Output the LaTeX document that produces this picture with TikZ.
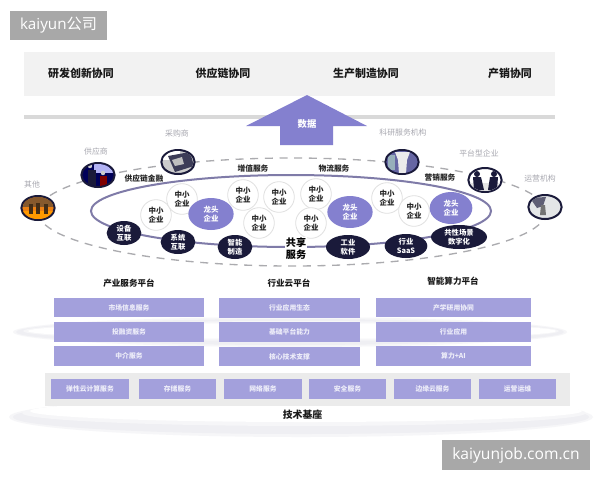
\documentclass[tikz,border=0pt]{standalone}
\usepackage{fontspec}
\usetikzlibrary{shapes.geometric}
\setmainfont{Noto Sans CJK SC}
\newfontfamily\latinfont{Open Sans}
\definecolor{boxpurple}{HTML}{A3A0DC}
\definecolor{arrowpurple}{HTML}{8480CF}
\definecolor{darkoval}{HTML}{1A1A3A}
\definecolor{ringline}{HTML}{7F7BA8}
\definecolor{dashgray}{HTML}{ABABAF}
\definecolor{labelgray}{HTML}{A8A8B0}
\definecolor{wm}{HTML}{A8A8A8}
\definecolor{ringa}{HTML}{F6F6F8}
\definecolor{ringb}{HTML}{EFEFF3}
\tikzset{
  x=0.75pt,y=-0.75pt,
  headtext/.style={font=\fontsize{8.2}{10}\selectfont\bfseries,text=black!90,inner sep=0pt},
  darktext/.style={font=\fontsize{5.8}{7}\selectfont\bfseries,text=black!85,inner sep=0pt},
  platformtext/.style={font=\fontsize{6.4}{8}\selectfont\bfseries,text=black!90,inner sep=0pt},
  graylabel/.style={font=\fontsize{5.9}{7}\selectfont,text=labelgray,inner sep=0pt},
  smecircle/.style={circle,draw=black!12,line width=0.6pt,fill=white,minimum size=23pt,inner sep=0pt,align=center,font=\fontsize{5.6}{7}\selectfont\bfseries,text=black!85},
  leadoval/.style={ellipse,fill=arrowpurple,minimum width=34pt,minimum height=24pt,inner sep=0pt,align=center,font=\fontsize{5.6}{7}\selectfont\bfseries,text=white},
  darkellipse/.style={ellipse,fill=darkoval,minimum width=26pt,minimum height=18pt,inner sep=0pt,align=center,font=\fontsize{5.5}{6.8}\selectfont\bfseries,text=white!90},
  photooval/.style={ellipse,draw=darkoval,line width=1.5pt,minimum width=25pt,minimum height=18pt,inner sep=0pt},
  purplebox/.style={text=white!82!boxpurple,font=\fontsize{5.1}{6}\selectfont\bfseries,inner sep=0pt,anchor=center},
}
\newcommand{\pbox}[6]{%
  \fill[boxpurple] (#2,#3) rectangle (#4,#5);
  \node[purplebox] (#1) at ({(#2+#4)/2},{(#3+#5)/2}) {#6};}
\begin{document}
\begin{tikzpicture}
\useasboundingbox (0,0) rectangle (600,480);
\fill[white] (0,0) rectangle (600,480);
% rings
\fill[ringa] (290,332) ellipse [x radius=277,y radius=15];
\fill[ringb] (290,332) ellipse [x radius=274,y radius=13];
\fill[ringa] (291,331) ellipse [x radius=268,y radius=10];
\fill[white] (292,331) ellipse [x radius=264,y radius=8];
\fill[ringa] (301,417) ellipse [x radius=292,y radius=20];
\fill[ringb] (301,417) ellipse [x radius=288,y radius=17];
\fill[ringa] (304,413) ellipse [x radius=282,y radius=13];
\fill[white] (306,411) ellipse [x radius=276,y radius=11];
% top band
\fill[black!5] (24,52) rectangle (555,96);
\fill[black!15] (24,115) rectangle (555,118.5);
\node[headtext] (c1) at (81,73) {研发创新协同};
\node[headtext] (c2) at (223,73) {供应链协同};
\node[headtext] (c3) at (366,73) {生产制造协同};
\node[headtext] (c4) at (510,73) {产销协同};
% arrow
\fill[arrowpurple] (307,95) -- (367,126) -- (333,126) -- (333,145) -- (280,145) -- (280,126) -- (246,126) -- cycle;
\node[font=\fontsize{7}{8}\selectfont\bfseries,text=white!90,inner sep=0pt] (data) at (307,124) {数据};
% dashed and solid ellipse
\draw[dashgray,line width=1pt,dash pattern=on 6pt off 5pt] (292,212) ellipse [x radius=254,y radius=54];
\draw[ringline,line width=1.5pt] (291,211) ellipse [x radius=200,y radius=36];
% photos
\node[photooval,fill=orange!70!brown] (p1) at (38,208) {};
\begin{scope}
\clip (38,208) ellipse [x radius=15.5,y radius=11];
\fill[brown!70!black] (22,197) rectangle (54,207);
\fill[orange!80!yellow] (22,211) rectangle (54,219);
\fill[black!65!brown] (29,204) rectangle (33,214);
\fill[black!65!brown] (36,203) rectangle (40,214);
\fill[black!65!brown] (44,204) rectangle (48,214);
\end{scope}
\node[photooval,fill=blue!35!black] (p2) at (98,175) {};
\begin{scope}
\clip (98,175) ellipse [x radius=15.5,y radius=11];
\fill[black!15!blue!30] (94,164) rectangle (114,173);
\fill[darkoval] (88,170) rectangle (96,187);
\fill[black!20] (90,166) circle[radius=2.2];
\fill[black!20] (103,173) circle[radius=2.2];
\fill[red!50!black] (100,176) rectangle (107,186);
\end{scope}
\node[photooval,fill=black!20] (p3) at (178,162) {};
\begin{scope}
\clip (178,162) ellipse [x radius=15.5,y radius=11];
\fill[white] (163,150) rectangle (180,160);
\fill[darkoval!85] (168,156) -- (190,152) -- (194,166) -- (175,172) -- cycle;
\fill[black!25] (172,160) -- (182,157) -- (184,164) -- (175,166) -- cycle;
\end{scope}
\node[photooval,fill=blue!45!black!75] (p4) at (402,162) {};
\begin{scope}
\clip (402,162) ellipse [x radius=15.5,y radius=11];
\fill[blue!40!black!60] (386,150) rectangle (418,174);
\fill[black!8] (395,152) -- (410,152) -- (407,160) -- (406,174) -- (399,174) -- (398,160) -- cycle;
\fill[cyan!40!black!50] (388,155) rectangle (395,170);
\end{scope}
\node[photooval,fill=white] (p5) at (485,180) {};
\begin{scope}
\clip (485,180) ellipse [x radius=15.5,y radius=11];
\fill[black!10] (470,183) rectangle (500,192);
\fill[darkoval] (477,174) circle[radius=3];
\fill[darkoval] (494,174) circle[radius=3];
\fill[darkoval] (473,177) -- (481,177) -- (484,190) -- (474,190) -- cycle;
\fill[darkoval] (490,177) -- (498,177) -- (497,190) -- (488,190) -- cycle;
\end{scope}
\node[photooval,fill=cyan!12!black!12] (p6) at (545,207) {};
\begin{scope}
\clip (545,207) ellipse [x radius=15.5,y radius=11];
\fill[darkoval!70] (530,198) -- (546,197) -- (543,206) -- (537,208) -- cycle;
\fill[black!55] (541,205) -- (545,205) -- (546,215) -- (540,215) -- cycle;
\end{scope}
% gray labels
\node[graylabel] (g1) at (32,184) {其他};
\node[graylabel] (g2) at (96,151) {供应商};
\node[graylabel] (g3) at (177,133) {采购商};
\node[graylabel] (g4) at (403,133) {科研服务机构};
\node[graylabel] (g5) at (479,153) {平台型企业};
\node[graylabel] (g6) at (540,179) {运营机构};
% service labels
\node[darktext] (s1) at (253,169) {增值服务};
\node[darktext] (s2) at (334,169) {物流服务};
\node[darktext] (s3) at (144,179) {供应链金融};
\node[darktext] (s4) at (440,178) {营销服务};
% SMEs
\foreach \n/\x/\y in {a/156/215,b/182/199,c/243/195,d/279/197,e/259/223,f/316/194,g/311/223,h/387/198,i/414/211}
  \node[smecircle] (sme\n) at (\x,\y) {中小\\企业};
% leaders
\node[leadoval] (l1) at (211,214) {龙头\\企业};
\node[leadoval] (l2) at (350,212) {龙头\\企业};
\node[leadoval,minimum width=32pt] (l3) at (451,208) {龙头\\企业};
% dark ovals
\node[darkellipse] (d1) at (124,233) {设备\\互联};
\node[darkellipse] (d2) at (178,242) {系统\\互联};
\node[darkellipse] (d3) at (235,247) {智能\\制造};
\node[darkellipse,minimum width=33pt] (d4) at (348,247) {工业\\软件};
\node[darkellipse,minimum width=32pt] (d5) at (406,246) {行业\\SaaS};
\node[darkellipse,minimum width=42pt] (d6) at (459,237) {共性场景\\数字化};
\node[font=\fontsize{7.6}{9.4}\selectfont\bfseries,align=center,inner sep=0.5pt,fill=white] (share) at (296,248.5) {共享\\服务};
% platforms
\node[platformtext] (t1) at (129,283) {产业服务平台};
\node[platformtext] (t2) at (289,283) {行业云平台};
\node[platformtext] (t3) at (453,281.5) {智能算力平台};
\pbox{a1}{54}{298}{204}{317}{市场信息服务}
\pbox{a2}{54}{322}{204}{342}{投融资服务}
\pbox{a3}{54}{346}{204}{366}{中介服务}
\pbox{b1}{219}{298}{360}{318}{行业应用生态}
\pbox{b2}{219}{322}{360}{342}{基础平台能力}
\pbox{b3}{219}{347}{360}{366}{核心技术支撑}
\pbox{e1}{376}{298}{531}{317}{产学研用协同}
\pbox{e2}{376}{322}{531}{342}{行业应用}
\pbox{e3}{376}{346}{531}{366}{算力+AI}
% base band
\fill[black!8] (45,373) rectangle (570,406);
\pbox{f1}{51}{379}{129}{399}{弹性云计算服务}
\pbox{f2}{139}{379}{216}{399}{存储服务}
\pbox{f3}{224}{379}{302}{399}{网络服务}
\pbox{f4}{309}{379}{386}{399}{安全服务}
\pbox{f5}{394}{379}{471}{399}{边缘云服务}
\pbox{f6}{479}{379}{556}{399}{运营运维}
\node[font=\fontsize{7.4}{9}\selectfont\bfseries,text=black!90,inner sep=0pt] (base) at (302.5,415) {技术基座};
% watermarks
\fill[wm] (10,11) rectangle (107,40);
\node[font=\fontsize{11.4}{13}\selectfont,text=white,inner sep=0pt] (wm1) at (58.5,25.5) {{\latinfont kaiyun}公司};
\fill[wm] (442,440) rectangle (590,470);
\node[font=\fontsize{11.7}{13}\selectfont,text=white,inner sep=0pt] (wm2) at (516,455) {\latinfont kaiyunjob.com.cn};
\end{tikzpicture}
\end{document}
